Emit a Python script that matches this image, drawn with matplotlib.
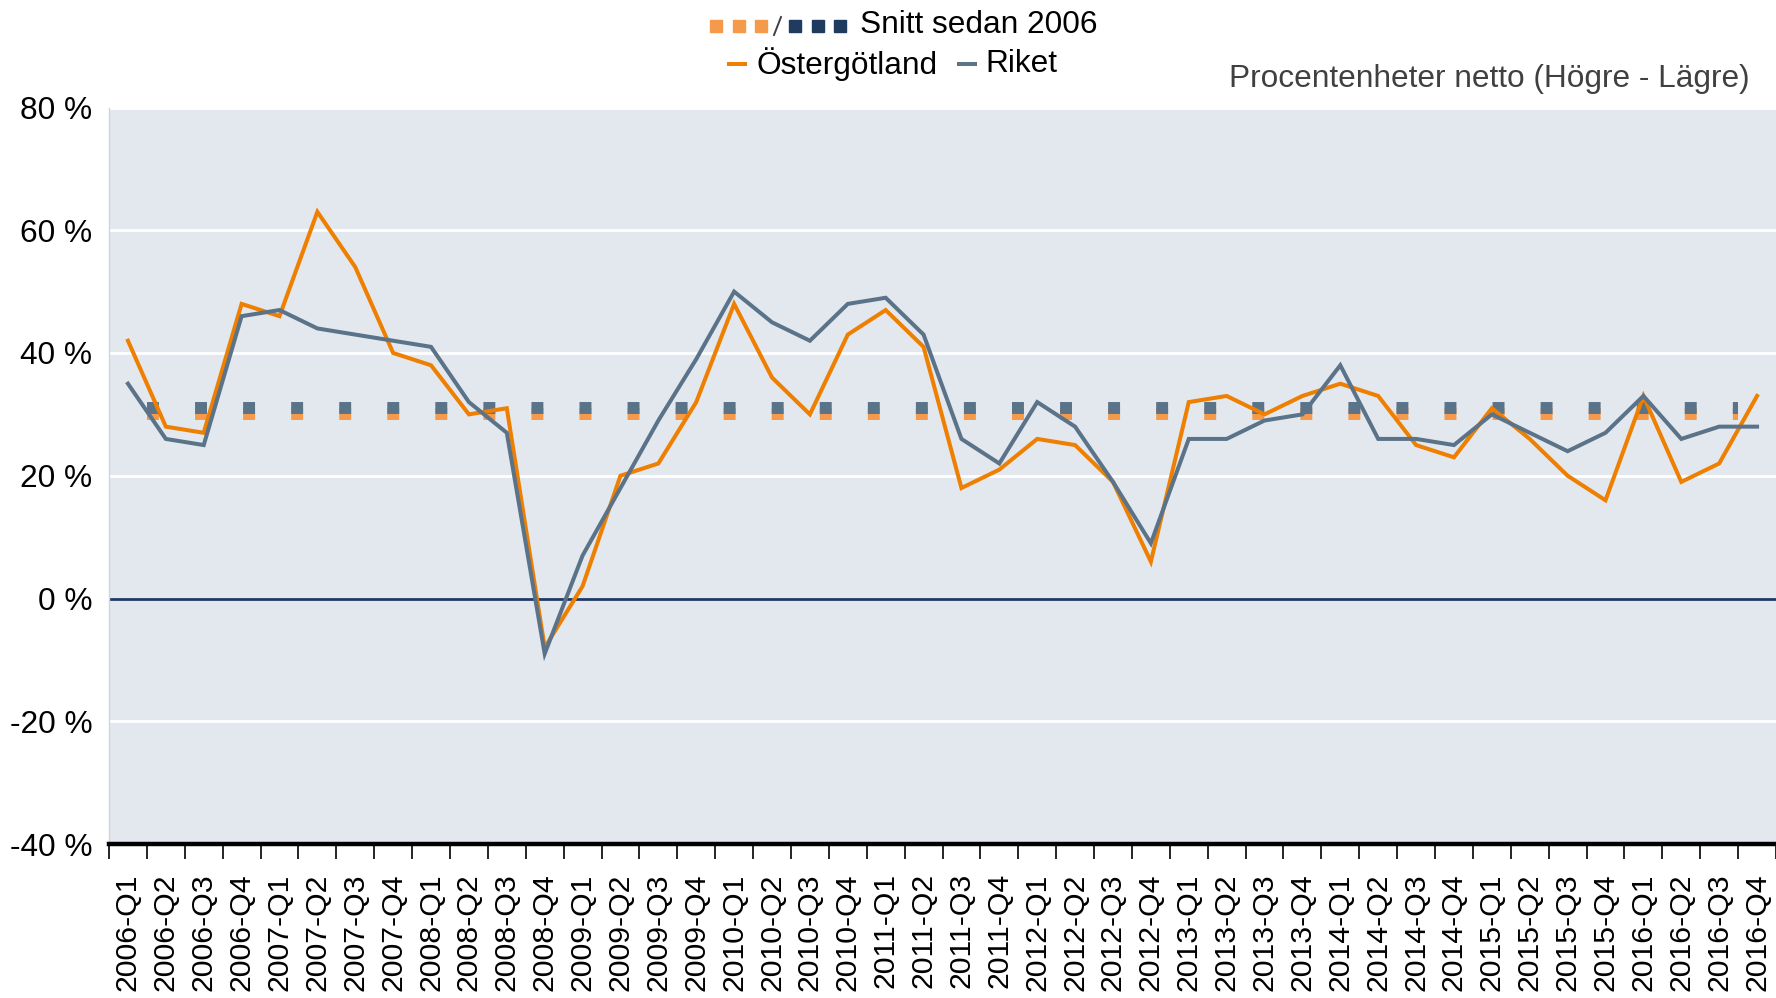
import numpy as np
import matplotlib
matplotlib.use("Agg")
import matplotlib.pyplot as plt
from matplotlib.lines import Line2D

plt.rcParams['font.family'] = ['Liberation Sans', 'DejaVu Sans']
plt.rcParams['lines.scale_dashes'] = False

# data (percentage points, net)
quarters = [f"{y}-Q{q}" for y in range(2006, 2017) for q in range(1, 5)]
ostergotland = [42, 28, 27, 48, 46, 63, 54, 40, 38, 30, 31, -8,
                2, 20, 22, 32, 48, 36, 30, 43, 47, 41, 18, 21,
                26, 25, 19, 6, 32, 33, 30, 33, 35, 33, 25, 23,
                31, 26, 20, 16, 33, 19, 22, 33]
riket = [35, 26, 25, 46, 47, 44, 43, 42, 41, 32, 27, -9,
         7, 18, 29, 39, 50, 45, 42, 48, 49, 43, 26, 22,
         32, 28, 19, 9, 26, 26, 29, 30, 38, 26, 26, 25,
         30, 27, 24, 27, 33, 26, 28, 28]
snitt_ost = 30.0
snitt_riket = 31.0

ORANGE = '#EE7F00'
ORANGE_LIGHT = '#F59A4A'
BLUEGRAY = '#5B7389'
NAVY = '#1F3B5F'
ZERO = '#1F3864'
BG = '#E3E8EF'

W, H = 1776, 998
fig = plt.figure(figsize=(W / 100, H / 100), dpi=100)
ax = fig.add_axes([109 / W, 1 - 844 / H, 1 - 109 / W, (844 - 107.5) / H])
ax.set_facecolor(BG)

x = np.arange(len(quarters))
n = len(quarters)
ax.set_xlim(-0.5, n - 0.5)
ax.set_ylim(-40, 80)

# grid
ax.set_yticks(np.arange(-40, 81, 20))
ax.yaxis.grid(True, color='white', lw=2)
ax.set_axisbelow(True)
ax.axhline(0, color=ZERO, lw=2, zorder=2)

# average lines (square dots)
ax.plot([0.5, n - 1.5], [snitt_ost] * 2, color=ORANGE_LIGHT, lw=8.6,
        dashes=(8.6, 26.0), dash_capstyle='butt', zorder=3)
ax.plot([0.5, n - 1.5], [snitt_riket] * 2, color=BLUEGRAY, lw=8.6,
        dashes=(8.6, 26.0), dash_capstyle='butt', zorder=3)

# series
ax.plot(x, ostergotland, color=ORANGE, lw=2.9, zorder=4, solid_joinstyle='miter')
ax.plot(x, riket, color=BLUEGRAY, lw=2.9, zorder=5, solid_joinstyle='miter')

# axes styling
for s in ['top', 'right']:
    ax.spines[s].set_visible(False)
ax.spines['left'].set_color('#D0D5DC')
ax.spines['left'].set_linewidth(1)
ax.spines['bottom'].set_color('black')
ax.spines['bottom'].set_linewidth(3.2)

ax.set_yticklabels([f"{v} %" for v in range(-40, 81, 20)], fontsize=22.8)
ax.tick_params(axis='y', length=0, pad=12)

ax.set_xticks(x)
ax.set_xticklabels(quarters, rotation=90, fontsize=21.8)
ax.set_xticks(np.arange(-0.5, n, 1), minor=True)
ax.tick_params(axis='x', which='major', length=0, pad=21)
ax.tick_params(axis='x', which='minor', length=11, width=1.2, color='black')

# unit text
fig.text(1750 / W, 1 - 79 / H, 'Procentenheter netto (Högre - Lägre)',
         ha='right', va='center', fontsize=22.8, color='#404040')

# legend drawn by hand
def fx(px):
    return px / W

def fy(py):
    return 1 - py / H

for px in [716, 739, 761]:
    fig.add_artist(Line2D([fx(px)], [fy(26)], marker='s', markersize=8.4,
                          color=ORANGE_LIGHT, lw=0, transform=fig.transFigure))
fig.add_artist(Line2D([fx(774), fx(781)], [fy(35), fy(17)], color='#404040', lw=1.4,
                      transform=fig.transFigure))
for px in [795, 818, 840]:
    fig.add_artist(Line2D([fx(px)], [fy(26)], marker='s', markersize=8.4,
                          color=NAVY, lw=0, transform=fig.transFigure))
fig.text(fx(860), fy(25), 'Snitt sedan 2006', ha='left', va='center', fontsize=22.8)

fig.add_artist(Line2D([fx(729), fx(745)], [fy(64)] * 2, color=ORANGE, lw=2.9,
                      transform=fig.transFigure))
fig.text(fx(756), fy(64), 'Östergötland', ha='left', va='center', fontsize=22.8)
fig.add_artist(Line2D([fx(959), fx(975)], [fy(64)] * 2, color=BLUEGRAY, lw=2.9,
                      transform=fig.transFigure))
fig.text(fx(985), fy(64), 'Riket', ha='left', va='center', fontsize=22.8)

fig.savefig('out.png', dpi=100, facecolor='white')
